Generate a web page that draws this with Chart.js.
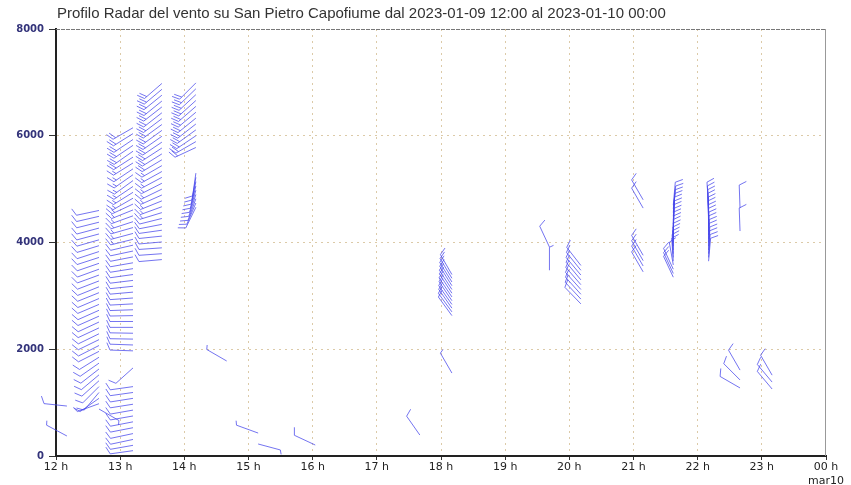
<!DOCTYPE html>
<html>
<head>
<meta charset="utf-8">
<script src="https://cdn.jsdelivr.net/npm/chart.js@4.4.0/dist/chart.umd.min.js"></script>
<style>
  html, body { margin: 0; padding: 0; background: #fff; }
</style>
</head>
<body>
<canvas id="myChart" width="851" height="485"></canvas>
<script>
// profili del vento: ora (h), quota (m), direzione (gradi), velocita (nodi)
var col1Time = 12.67;
var col1Heights = [4600,4490,4380,4270,4160,4050,3940,3830,3720,3610,3500,3390,3280,3170,3060,2950,2840,2730,2620,2510,2400,2290,2180,2070,1960,1850,1740,1630,1520,1410,1300,1190,1080,980,880];
var col1Dirs = [258,257,256,255,255,254,253,252,252,251,250,250,249,248,248,247,247,246,246,245,245,244,244,243,243,238,235,232,230,228,225,220,235,250,120];
var col1Speeds = [10,10,10,10,10,10,10,10,10,10,10,10,10,10,10,10,10,10,10,10,10,10,10,10,10,10,10,10,10,10,10,10,10,5,5];

var col2Time = 13.2;
var col2Heights = [6150,6040,5930,5820,5710,5600,5490,5380,5270,5160,5050,4940,4830,4720,4610,4500,4390,4280,4170,4060,3950,3840,3730,3620,3510,3400,3290,3180,3070,2960,2850,2740,2630,2520,2410,2300,2190,2080,1970,1650,1300,1190,1080,970,860,750,640,530,420,310,200,100];
var col2Dirs = [240,238,236,236,235,237,238,236,235,234,236,238,240,245,248,250,252,254,255,256,257,258,259,260,261,262,263,264,265,266,267,268,269,270,270,271,271,272,272,228,262,262,261,261,260,260,259,259,258,258,260,262];
var col2Speeds = [20,20,20,20,20,20,15,15,15,15,15,15,15,15,15,15,15,15,15,15,10,10,10,10,10,10,10,10,10,10,10,10,10,10,10,10,10,10,10,10,10,10,10,10,10,10,10,10,10,10,10,10];

var col3Time = 13.65;
var col3Heights = [6980,6870,6760,6650,6540,6430,6320,6210,6100,5990,5880,5770,5660,5550,5440,5330,5220,5110,5000,4890,4780,4670,4560,4450,4340,4230,4120,4010,3900,3790,3680];
var col3Dirs = [229,230,231,231,232,232,233,234,234,235,236,237,238,239,240,241,242,243,244,246,248,250,253,256,259,262,264,265,266,266,265];
var col3Speeds = [20,20,20,20,20,20,20,20,20,20,20,20,20,20,15,15,15,15,15,15,15,15,15,10,10,10,10,10,10,10,10];

var col4Time = 14.18;
var col4Heights = [6990,6880,6770,6660,6550,6440,6330,6220,6110,6000,5890,5780,5300,5220,5140,5060,4980,4900,4820,4740,4660];
var col4Dirs = [225,226,227,228,229,230,231,232,234,236,240,245,188,190,192,194,196,198,200,203,206];
var col4Speeds = [20,20,20,20,20,20,20,20,20,20,20,20,10,10,10,10,10,10,10,10,10];

var col5Time = 18.17;
var col5Heights = [3400,3330,3260,3190,3120,3050,2980,2910,2840,2770,2700,2630];
var col5Dirs = [330,329,328,328,327,327,326,326,325,325,324,324];
var col5Speeds = [10,10,10,10,10,10,10,10,10,10,10,10];

var col6Time = 20.18;
var col6Heights = [3570,3480,3390,3300,3210,3120,3030,2940,2850];
var col6Dirs = [322,321,320,320,319,318,318,317,316];
var col6Speeds = [10,10,10,10,10,10,10,10,10];

var col7Time = 21.62;
var col7Heights = [4700,4630,4560,4490,4420,4350,4280,4210,4140,4070,4000,3930,3860,3790,3720,3650,3580,3500,3420,3350];
var col7Dirs = [5,6,5,4,3,3,2,2,1,1,0,0,359,358,357,356,350,335,335,335];
var col7Speeds = [10,10,10,10,10,10,10,10,10,10,10,10,10,10,10,10,10,10,10,10];

var col8Time = 22.17;
var col8Heights = [4700,4630,4560,4490,4420,4350,4280,4210,4140,4070,4000,3930,3860,3790,3720,3650];
var col8Dirs = [356,357,358,358,359,359,0,0,1,1,2,2,3,3,4,5];
var col8Speeds = [10,10,10,10,10,10,10,10,10,10,10,10,10,10,10,10];

// barbe isolate
var soloTimes = [12.17,12.17,14.66,15.15,15.15,16.04,17.67,18.17,19.69,19.69,21.15,21.15,21.15,21.15,21.15,21.15,22.66,22.66,22.66,22.66,22.66,23.16,23.16,23.16];
var soloHeights = [936,375,1780,430,225,206,393,1554,3480,3915,4800,4645,3760,3660,3560,3450,4645,4215,1610,1425,1275,1515,1385,1255];
var soloDirs = [276,298,300,290,105,295,325,330,0,335,330,330,330,330,330,330,358,358,330,315,300,330,320,320];
var soloSpeeds = [10,5,5,5,5,10,10,5,5,10,10,10,10,10,10,10,10,10,10,10,10,10,10,10];

var xTicksLabel = ['12 h','13 h','14 h','15 h','16 h','17 h','18 h','19 h','20 h','21 h','22 h','23 h',['00 h','mar10']];
var titolo = 'Profilo Radar del vento su San Pietro Capofiume dal 2023-01-09 12:00 al 2023-01-10 00:00';

function profilo(t, hs, ds, ss) {
  var out = [];
  for (var i = 0; i < hs.length; i++) {
    out.push({ x: t, y: hs[i], dir: ds[i], spd: ss[i] });
  }
  return out;
}

function soli() {
  var out = [];
  for (var i = 0; i < soloTimes.length; i++) {
    out.push({ x: soloTimes[i], y: soloHeights[i], dir: soloDirs[i], spd: soloSpeeds[i] });
  }
  return out;
}

var punti = [].concat(
  profilo(col1Time, col1Heights, col1Dirs, col1Speeds),
  profilo(col2Time, col2Heights, col2Dirs, col2Speeds),
  profilo(col3Time, col3Heights, col3Dirs, col3Speeds),
  profilo(col4Time, col4Heights, col4Dirs, col4Speeds),
  profilo(col5Time, col5Heights, col5Dirs, col5Speeds),
  profilo(col6Time, col6Heights, col6Dirs, col6Speeds),
  profilo(col7Time, col7Heights, col7Dirs, col7Speeds),
  profilo(col8Time, col8Heights, col8Dirs, col8Speeds),
  soli()
);

function disegnaBarba(ctx, x, y, dir, spd) {
  var a = dir * Math.PI / 180;
  var dx = Math.sin(a), dy = -Math.cos(a);
  var px = Math.cos(a), py = Math.sin(a);
  var tilt = 25 * Math.PI / 180;
  var bx = px * Math.cos(tilt) + dx * Math.sin(tilt);
  var by = py * Math.cos(tilt) + dy * Math.sin(tilt);
  var L = 23, full = 8, half = 4.5, gap = 3;
  ctx.beginPath();
  ctx.moveTo(x, y);
  ctx.lineTo(x + dx * L, y + dy * L);
  var n = Math.floor(spd / 10);
  var pos = L;
  for (var i = 0; i < n; i++) {
    var sx = x + dx * pos, sy = y + dy * pos;
    ctx.moveTo(sx, sy);
    ctx.lineTo(sx + bx * full, sy + by * full);
    pos -= gap;
  }
  if (spd % 10 >= 5) {
    var hx = x + dx * pos, hy = y + dy * pos;
    ctx.moveTo(hx, hy);
    ctx.lineTo(hx + bx * half, hy + by * half);
  }
  ctx.stroke();
}

var barbePlugin = {
  id: 'barbe',
  afterDatasetsDraw: function (chart) {
    var ctx = chart.ctx;
    var xs = chart.scales.x, ys = chart.scales.y;
    ctx.save();
    ctx.strokeStyle = 'rgba(70,70,235,0.75)';
    ctx.lineWidth = 1;
    chart.data.datasets.forEach(function (ds) {
      ds.data.forEach(function (p) {
        disegnaBarba(ctx, xs.getPixelForValue(p.x), ys.getPixelForValue(p.y), p.dir, p.spd);
      });
    });
    ctx.restore();
  }
};

var cornicePlugin = {
  id: 'cornice',
  beforeDatasetsDraw: function (chart) {
    var ctx = chart.ctx, a = chart.chartArea;
    ctx.save();
    ctx.strokeStyle = '#777';
    ctx.lineWidth = 1;
    ctx.setLineDash([4, 1]);
    ctx.beginPath();
    ctx.moveTo(a.left, a.top + 0.5);
    ctx.lineTo(a.right, a.top + 0.5);
    ctx.stroke();
    ctx.setLineDash([]);
    ctx.strokeStyle = '#999';
    ctx.beginPath();
    ctx.moveTo(a.right - 0.5, a.top);
    ctx.lineTo(a.right - 0.5, a.bottom);
    ctx.stroke();
    ctx.fillStyle = '#333';
    ctx.font = '15px "Liberation Sans", Arial, sans-serif';
    ctx.textBaseline = 'middle';
    ctx.fillText(titolo, 57, 14);
    ctx.restore();
  }
};

var config = {
  type: 'scatter',
  data: {
    datasets: [{
      label: 'vento',
      data: punti,
      pointRadius: 0,
      pointHoverRadius: 0
    }]
  },
  options: {
    responsive: false,
    animation: false,
    devicePixelRatio: 1,
    layout: { padding: { top: 29, right: 25, left: 0, bottom: 0 } },
    plugins: {
      legend: { display: false },
      tooltip: { enabled: false },
      title: { display: false }
    },
    scales: {
      x: {
        type: 'linear',
        min: 12,
        max: 24,
        afterFit: function (s) { s.height = 29; },
        ticks: {
          stepSize: 1,
          color: '#222',
          font: { family: 'DejaVu Sans', size: 11 },
          padding: 1,
          maxRotation: 0,
          callback: function (v) { return xTicksLabel[v - 12]; }
        },
        grid: {
          color: function (c) { return (c.tick && (c.tick.value === 12 || c.tick.value === 24)) ? 'rgba(0,0,0,0)' : '#dccaa8'; },
          tickColor: '#333',
          tickLength: 4,
          tickBorderDash: [],
          lineWidth: 1
        },
        border: { display: true, color: '#222', width: 2, dash: [2, 4] }
      },
      y: {
        min: 0,
        max: 8000,
        afterFit: function (s) { s.width = 56; },
        ticks: {
          stepSize: 2000,
          color: '#33337a',
          font: { family: 'DejaVu Sans', size: 10, weight: 'bold' },
          padding: 5,
          callback: function (v) { return String(v); }
        },
        grid: {
          color: function (c) { return (c.tick && (c.tick.value === 0 || c.tick.value === 8000)) ? 'rgba(0,0,0,0)' : '#dccaa8'; },
          tickColor: '#333',
          tickLength: 7,
          tickBorderDash: [],
          lineWidth: 1
        },
        border: { display: true, color: '#222', width: 2, dash: [2, 4] }
      }
    }
  },
  plugins: [cornicePlugin, barbePlugin]
};

window.myChart = new Chart(document.getElementById('myChart'), config);
</script>
</body>
</html>
